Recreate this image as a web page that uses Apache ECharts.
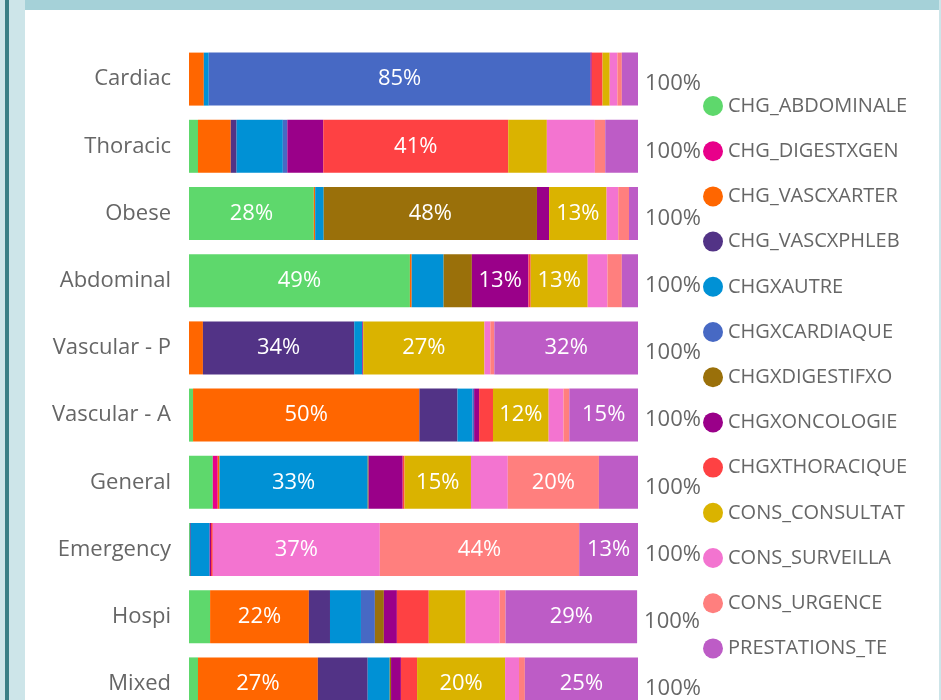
<!DOCTYPE html>
<html>
<head>
<meta charset="utf-8">
<script src="https://cdn.jsdelivr.net/npm/echarts@6/dist/echarts.min.js"></script>
<style>
    html, body { margin: 0; padding: 0; width: 941px; height: 700px; overflow: hidden; background: #cde5e9; }
    #edge { position: absolute; left: 5px; top: 0; width: 4px; height: 700px; background: #3a7f86; }
    #card { position: absolute; left: 25px; top: 0; width: 914px; height: 700px; background: #fff; }
    #band { position: absolute; left: 0; top: 0; width: 914px; height: 10px; background: #a5d1d8; }
    #container { position: absolute; left: -25px; top: 0; width: 941px; height: 700px; }
</style>
</head>
<body>
<div id="edge"></div>
<div id="card">
    <div id="band"></div>
    <div id="container"></div>
</div>
<script type="text/javascript">
    var categories = ['Cardiac', 'Thoracic', 'Obese', 'Abdominal', 'Vascular - P', 'Vascular - A', 'General', 'Emergency', 'Hospi', 'Mixed'];

    var seriesNames = ['CHG_ABDOMINALE', 'CHG_DIGESTXGEN', 'CHG_VASCXARTER', 'CHG_VASCXPHLEB', 'CHGXAUTRE', 'CHGXCARDIAQUE',
        'CHGXDIGESTIFXO', 'CHGXONCOLOGIE', 'CHGXTHORACIQUE', 'CONS_CONSULTAT', 'CONS_SURVEILLA', 'CONS_URGENCE', 'PRESTATIONS_TE'];

    var abdominale = [0, 2.0, 27.8, 49.2, 0, 0.9, 5.3, 0.2, 4.7, 2.0];
    var digestxgen = [0, 0, 0, 0, 0, 0, 1.1, 0, 0, 0];
    var vascxarter = [3.3, 7.3, 0.3, 0.4, 3.1, 50.4, 0.4, 0, 22.0, 26.7];
    var vascxphleb = [0, 1.3, 0, 0, 33.7, 8.5, 0, 0.2, 4.7, 11.1];
    var autre = [1.1, 10.3, 1.9, 7.1, 1.8, 3.3, 33.0, 4.2, 6.9, 4.9];
    var cardiaque = [85.0, 1.0, 0, 0, 0, 0.4, 0, 0, 3.1, 0];
    var digestifxo = [0, 0, 47.5, 6.3, 0, 0, 0.2, 0, 2.0, 0.3];
    var oncologie = [0.3, 8.0, 2.7, 12.6, 0.2, 1.1, 7.6, 0.3, 2.9, 2.2];
    var thoracique = [2.4, 41.2, 0, 0.5, 0, 3.1, 0.4, 0.4, 7.1, 3.6];
    var consultat = [1.6, 8.6, 12.8, 12.7, 27.0, 12.4, 14.8, 0, 8.2, 19.6];
    var surveilla = [1.7, 10.7, 2.6, 4.4, 1.3, 3.3, 8.2, 37.2, 7.6, 3.1];
    var urgence = [1.0, 2.3, 2.4, 3.2, 0.9, 1.3, 20.3, 44.4, 1.3, 1.3];
    var prestations = [3.6, 7.3, 2.0, 3.6, 32.0, 15.3, 8.7, 13.1, 29.3, 25.2];
    var totals = ['100%', '100%', '100%', '100%', '100%', '100%', '100%', '100%', '100%', '100%'];

    var values = [abdominale, digestxgen, vascxarter, vascxphleb, autre, cardiaque, digestifxo,
        oncologie, thoracique, consultat, surveilla, urgence, prestations];

    var colors = ['#5ed86c', '#e8008a', '#ff6600', '#523386', '#0091d5', '#4769c4', '#9a700a',
        '#9a0089', '#fe4143', '#dab300', '#f374d0', '#ff7f7e', '#bd5cc6'];

    var dom = document.getElementById('container');
    var myChart = echarts.init(dom);
    var font = '"Open Sans", "Noto Sans", sans-serif';

    var series = seriesNames.map(function (name, i) {
        return {
            name: name,
            type: 'bar',
            stack: 'total',
            barWidth: 53,
            itemStyle: { color: colors[i] },
            label: {
                show: true,
                position: 'inside',
                color: '#fff',
                fontSize: 22,
                fontFamily: font,
                formatter: function (p) {
                    return p.value >= 11.5 ? Math.round(p.value) + '%' : '';
                }
            },
            data: values[i]
        };
    });

    // empty bar at the end of each stack, only there to carry the total label
    series.push({
        name: 'total',
        type: 'bar',
        stack: 'total',
        barWidth: 53,
        itemStyle: { color: 'transparent' },
        label: {
            show: true,
            position: 'right',
            distance: 7,
            offset: [0, 5],
            color: '#666',
            fontSize: 22,
            fontFamily: font,
            formatter: function (p) {
                return totals[p.dataIndex];
            }
        },
        data: categories.map(function () { return 0; })
    });

    var option = {
        animation: false,
        color: colors,
        legend: {
            data: seriesNames,
            orient: 'vertical',
            left: 698,
            top: 91,
            icon: 'circle',
            itemWidth: 20,
            itemHeight: 20,
            itemGap: 25.2,
            textStyle: { color: '#666', fontSize: 20, lineHeight: 20, fontFamily: font }
        },
        grid: {
            left: 189,
            top: 45.5,
            width: 449,
            height: 672,
            outerBoundsMode: 'none'
        },
        xAxis: {
            type: 'value',
            min: 0,
            max: 100,
            show: false
        },
        yAxis: {
            type: 'category',
            inverse: true,
            data: categories,
            axisLine: { show: false },
            axisTick: { show: false },
            axisLabel: { color: '#666', fontSize: 22, fontFamily: font, margin: 18 }
        },
        series: series
    };

    myChart.setOption(option);
</script>
</body>
</html>
